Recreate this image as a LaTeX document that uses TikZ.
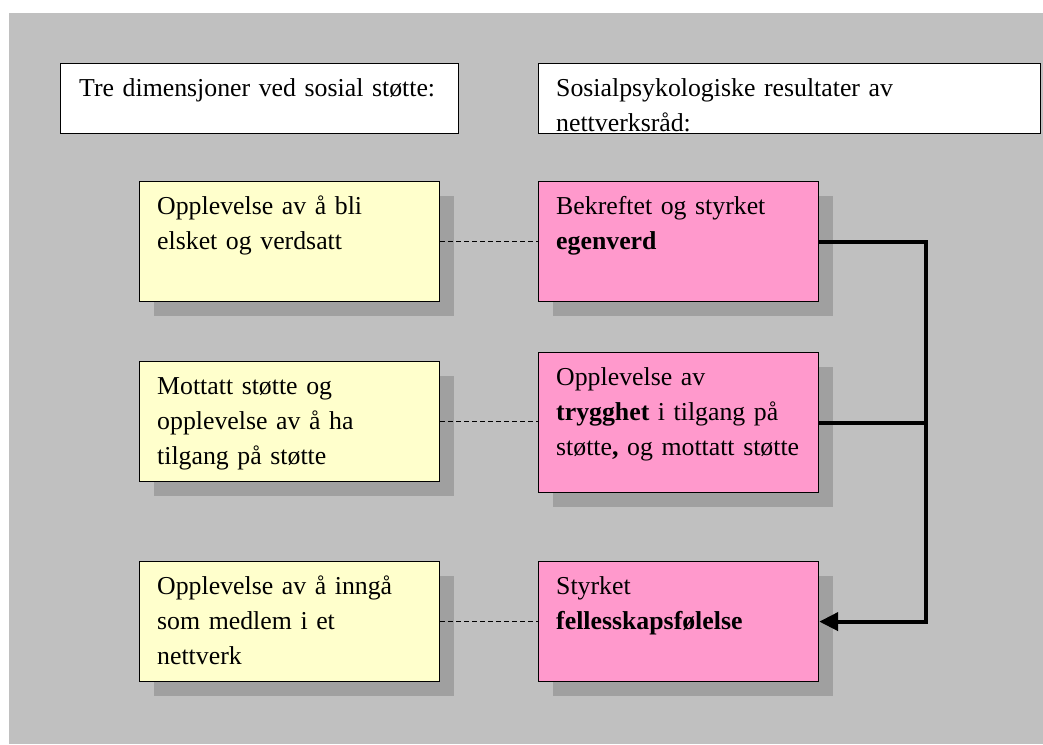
\documentclass[tikz,border=0pt]{standalone}
\usepackage{fontspec}
\setmainfont{Liberation Serif}
\usetikzlibrary{shadows,arrows.meta}
\definecolor{bggray}{HTML}{C0C0C0}
\definecolor{shadowgray}{HTML}{A0A0A0}
\definecolor{paleyellow}{HTML}{FFFFCC}
\definecolor{rosepink}{HTML}{FF99CC}
\tikzset{
  box/.style={draw,line width=1.2pt,anchor=north west,inner sep=0pt},
  boxshadow/.style={drop shadow={shadow xshift=14pt,shadow yshift=-14pt,fill=shadowgray,opacity=1}},
  headbox/.style={box,fill=white,minimum height=70pt},
  dimbox/.style={box,boxshadow,fill=paleyellow,minimum width=300pt,minimum height=120pt},
  resbox/.style={box,boxshadow,fill=rosepink,minimum width=280pt},
  boxtext/.style={anchor=base west,inner sep=0pt,text width=420pt,align=left,
    font=\fontsize{25.8}{35}\selectfont},
  link/.style={line width=1.6pt,dash pattern=on 5pt off 3pt},
  bus/.style={line width=4.2pt,line join=miter},
}
\begin{document}
\begin{tikzpicture}[x=1pt,y=-1pt]
  \useasboundingbox (0,0) rectangle (1043,744);
  \fill[bggray] (9,13) rectangle (1043,744);
  % headings
  \node[headbox,minimum width=398pt] (hl) at (60,63) {};
  \node[headbox,minimum width=502pt] (hr) at (538,63) {};
  \node[boxtext] (hlt) at ([shift={(19,33)}]hl.north west) {Tre dimensjoner ved sosial støtte:};
  \node[boxtext] (hrt) at ([shift={(18,33)}]hr.north west) {Sosialpsykologiske resultater av\\nettverksråd:};
  % dimensions
  \node[dimbox] (d1) at (139,181) {};
  \node[dimbox] (d2) at (139,361) {};
  \node[dimbox] (d3) at (139,561) {};
  \node[boxtext] (d1t) at ([shift={(18,33)}]d1.north west) {Opplevelse av å bli\\elsket og verdsatt};
  \node[boxtext] (d2t) at ([shift={(18,33)}]d2.north west) {Mottatt støtte og\\opplevelse av å ha\\tilgang på støtte};
  \node[boxtext] (d3t) at ([shift={(18,33)}]d3.north west) {Opplevelse av å inngå\\som medlem i et\\nettverk};
  % results
  \node[resbox,minimum height=120pt] (r1) at (538,181) {};
  \node[resbox,minimum height=140pt] (r2) at (538,352) {};
  \node[resbox,minimum height=120pt] (r3) at (538,561) {};
  \node[boxtext] (r1t) at ([shift={(18,33)}]r1.north west) {Bekreftet og styrket\\\textbf{egenverd}};
  \node[boxtext] (r2t) at ([shift={(18,33)}]r2.north west) {Opplevelse av\\\textbf{trygghet} i tilgang på\\støtte\textbf{,} og mottatt støtte};
  \node[boxtext] (r3t) at ([shift={(18,33)}]r3.north west) {Styrket\\\textbf{fellesskapsfølelse}};
  % links
  \draw[link] (d1.east) -- (d1.east -| r1.west);
  \draw[link] (d2.east) -- (d2.east -| r2.west);
  \draw[link] (d3.east) -- (d3.east -| r3.west);
  \coordinate (busx) at (926,0);
  \draw[bus,-{Triangle[length=19pt,width=18pt]}] (r1.east) -- (r1.east -| busx) -- (r3.east -| busx) -- (r3.east);
  \draw[bus] (r2.east) -- (r2.east -| busx);
\end{tikzpicture}
\end{document}
